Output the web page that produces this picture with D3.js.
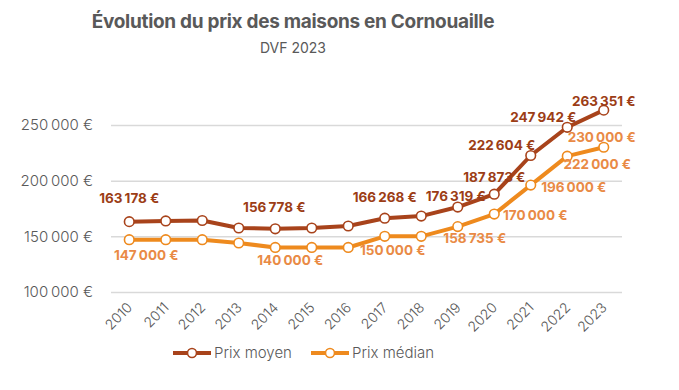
<!DOCTYPE html>
<html><head><meta charset="utf-8">
<script src="https://cdn.jsdelivr.net/npm/d3@7"></script>
<style>body{margin:0;background:#fff}svg{display:block;font-family:Inter,"Open Sans",sans-serif}</style>
</head><body><svg id="c" width="679" height="390"></svg>
<script>
const years = ["2010","2011","2012","2013","2014","2015","2016","2017","2018","2019","2020","2021","2022","2023"];
const prixMoyen = [163178,163800,164200,157500,156778,157500,159300,166268,168200,176319,187873,222604,247942,263351];
const prixMedian = [147000,147000,147000,144000,140000,140000,140000,150000,150000,158735,170000,196000,222000,230000];
const yTicks = [100000,150000,200000,250000];
const moyenLabelYears = ["2010","2014","2017","2019","2020","2021","2022","2023"];
const medianLabelYears = ["2010","2014","2017","2019","2020","2021","2022","2023"];
const seriesNames = ["Prix moyen","Prix médian"];

// layout (label offsets in px relative to the point)
const moyenOff = {"2010":[0,-23],"2014":[-1,-22],"2017":[0,-21],"2019":[-2,-11],"2020":[0,-17],"2021":[-29,-10],"2022":[-24,-10],"2023":[0,-9]};
const medianOff = {"2010":[17,16],"2014":[15,13],"2017":[8,14],"2019":[17,12],"2020":[41,1],"2021":[43,2],"2022":[30,8],"2023":[-2,-10]};
const cMoyen = "#A8431B", cMoyenLab = "#9C3D16", cMedian = "#EE8A1E", cMedianLab = "#E98A45";

const svg = d3.select("#c");
const fmt = v => d3.format(",")(v).replace(/,/g, "\u202F") + " €";
const x = d3.scalePoint().domain(years).range([111, 622]).padding(0.5);
const y = d3.scaleLinear().domain([100000, 250000]).range([292, 125]);

svg.append("text").attr("x", 293).attr("y", 28).attr("text-anchor","middle")
  .attr("font-size", 19).attr("font-weight", 700).attr("fill", "#595959").attr("letter-spacing", "-0.3")
  .text("Évolution du prix des maisons en Cornouaille");
svg.append("text").attr("x", 293).attr("y", 53).attr("text-anchor","middle")
  .attr("font-size", 14).attr("fill", "#595959").text("DVF 2023");

// grid + y axis
const ya = svg.append("g").attr("transform","translate(111,0)")
  .call(d3.axisLeft(y).tickValues(yTicks).tickSize(-511).tickFormat(fmt));
ya.select(".domain").remove();
ya.selectAll(".tick line").attr("stroke","#d9d9d9").attr("stroke-width",1.5);
ya.selectAll(".tick text").attr("x",-18).attr("font-size",15).attr("fill","#595959").attr("font-family","Inter,sans-serif").attr("font-weight",300);

// x axis
const xa = svg.append("g").attr("transform","translate(0,300)").call(d3.axisBottom(x).tickSize(0));
xa.select(".domain").remove();
xa.selectAll(".tick text").attr("font-size",14).attr("fill","#595959").attr("font-family","Inter,sans-serif").attr("font-weight",300)
  .attr("text-anchor","end").attr("transform","translate(0,5) rotate(-45)").attr("dy","0.35em").attr("y",0);

function drawSeries(vals, color) {
  const line = d3.line().x((d,i)=>x(years[i])).y(d=>y(d));
  svg.append("path").datum(vals).attr("d", line).attr("fill","none").attr("stroke",color).attr("stroke-width",4).attr("stroke-linejoin","round");
  svg.append("g").selectAll("circle").data(vals).join("circle")
    .attr("cx",(d,i)=>x(years[i])).attr("cy",d=>y(d)).attr("r",4.8)
    .attr("fill","#fff").attr("stroke",color).attr("stroke-width",1.6);
}
drawSeries(prixMedian, cMedian);
drawSeries(prixMoyen, cMoyen);

function drawLabels(vals, yrs, off, color) {
  svg.append("g").selectAll("text").data(yrs).join("text")
    .attr("x", d => x(d) + off[d][0]).attr("y", d => y(vals[years.indexOf(d)]) + off[d][1])
    .attr("dy","0.35em").attr("text-anchor","middle").attr("font-size",13.5).attr("font-weight",700)
    .attr("fill", color).text(d => fmt(vals[years.indexOf(d)]));
}
drawLabels(prixMoyen, moyenLabelYears, moyenOff, cMoyenLab);
drawLabels(prixMedian, medianLabelYears, medianOff, cMedianLab);

// legend
const lg = svg.append("g");
const legItems = [{name: seriesNames[0], color: cMoyen, x0: 173}, {name: seriesNames[1], color: cMedian, x0: 311}];
legItems.forEach(it => {
  lg.append("line").attr("x1", it.x0).attr("x2", it.x0+38).attr("y1",353).attr("y2",353).attr("stroke",it.color).attr("stroke-width",4);
  lg.append("circle").attr("cx", it.x0+19).attr("cy",353).attr("r",4.5).attr("fill","#fff").attr("stroke",it.color).attr("stroke-width",1.6);
  lg.append("text").attr("x", it.x0+41).attr("y",353).attr("dy","0.35em").attr("font-size",15).attr("font-weight",300).attr("fill","#595959").text(it.name);
});
</script></body></html>
